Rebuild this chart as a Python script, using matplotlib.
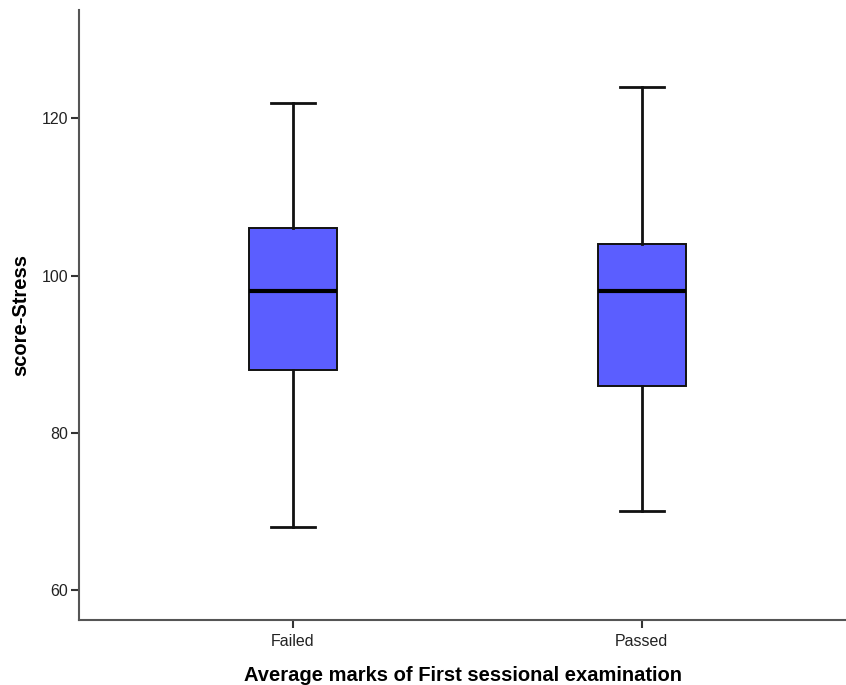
import matplotlib
matplotlib.use("Agg")
import matplotlib.pyplot as plt

categories = ["Failed", "Passed"]
whislo = [68, 70]
q1 = [88, 86]
med = [98, 98]
q3 = [106, 104]
whishi = [122, 124]
yticks = [60, 80, 100, 120]

plt.rcParams['font.family'] = ['Liberation Sans', 'DejaVu Sans']

fig = plt.figure(figsize=(8.46, 6.85), dpi=100)
ax = fig.add_axes([79/846, 65/685, 1 - 79/846, 610/685])

stats = []
for i, c in enumerate(categories):
    stats.append(dict(label=c, whislo=whislo[i], q1=q1[i], med=med[i],
                      q3=q3[i], whishi=whishi[i], fliers=[]))

ax.bxp(stats, positions=[0, 1], widths=0.252, patch_artist=True,
       showfliers=False, capwidths=0.125,
       boxprops=dict(facecolor='#5B5EFF', edgecolor='#111111', linewidth=1.4),
       medianprops=dict(color='black', linewidth=3),
       whiskerprops=dict(color='#111111', linewidth=2),
       capprops=dict(color='#111111', linewidth=2))

ax.set_xlim(-0.613, 1.585)
ax.set_ylim(56.18, 133.8)
ax.set_yticks(yticks)
ax.set_xticks([0, 1])
ax.set_xticklabels(categories)
for s in ['top', 'right']:
    ax.spines[s].set_visible(False)
for s in ['left', 'bottom']:
    ax.spines[s].set_color('#555555')
    ax.spines[s].set_linewidth(1.5)
ax.tick_params(axis='both', colors='#333333', labelsize=11.5, length=6, width=1.5,
               labelcolor='#222222', pad=2)
ax.tick_params(axis='x', pad=4)

ax.set_xlabel("Average marks of First sessional examination", fontsize=14.5,
              fontweight='bold', labelpad=12)
ax.set_ylabel("score-Stress", fontsize=14.5, fontweight='bold', labelpad=8)

fig.savefig("out.png", dpi=100)
